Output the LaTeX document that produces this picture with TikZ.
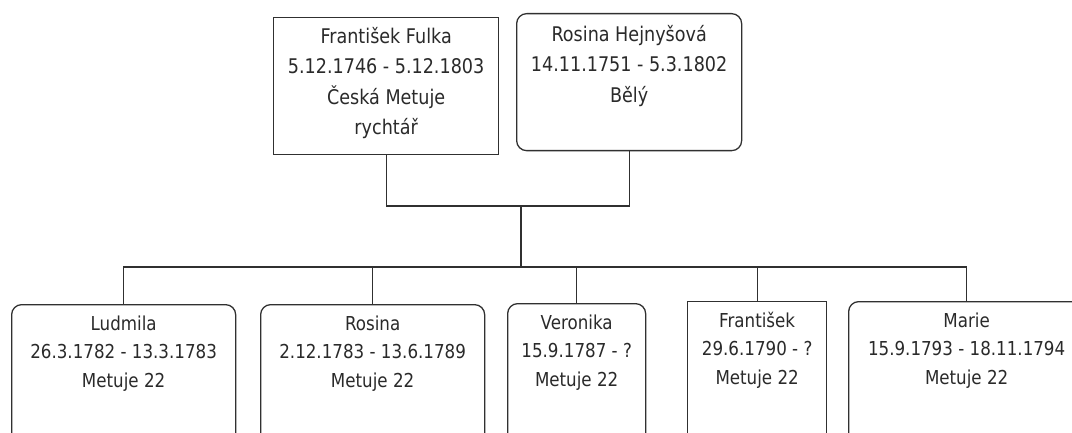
\documentclass[tikz,border=0pt]{standalone}
\usepackage{fontspec}
\setmainfont[FakeStretch=0.87]{DejaVu Sans}
\definecolor{linec}{HTML}{303030}
\definecolor{txtc}{HTML}{2A2A2A}
\tikzset{
  person/.style={draw=linec, line width=1.3pt, anchor=north west, inner sep=0pt, minimum height=141pt},
  roundp/.style={person, rounded corners=10pt},
  squarep/.style={person},
  toptext/.style={text=txtc, align=center, anchor=north, inner sep=0pt, font=\fontsize{20.2}{30.5}\selectfont},
  bottext/.style={text=txtc, align=center, anchor=north, inner sep=0pt, font=\fontsize{19.2}{28.6}\selectfont},
  conn/.style={draw=linec, line width=1.3pt},
}
\begin{document}
\begin{tikzpicture}[x=1pt,y=-1pt]
\useasboundingbox (0,0) rectangle (1072,433);
\clip (0,0) rectangle (1072,433);
\fill[white] (0,0) rectangle (1072,433);
% parents
\node (fulka) [squarep, minimum width=225pt, minimum height=137pt] at (273,17) {};
\node (fulka-t) [toptext] at ([yshift=-4.65pt]fulka.north) {\strut František Fulka\\5.12.1746 - 5.12.1803\\Česká Metuje\\rychtář};
\node (hejny) [roundp, minimum width=225pt, minimum height=137pt] at (516,13) {};
\node (hejny-t) [toptext] at ([yshift=-6.5pt]hejny.north) {\strut Rosina Hejnyšová\\14.11.1751 - 5.3.1802\\Bělý};
% children
\node (ludmila) [roundp, minimum width=224pt] at (11,304) {};
\node (ludmila-t) [bottext] at ([yshift=-6pt]ludmila.north) {\strut Ludmila\\26.3.1782 - 13.3.1783\\Metuje 22};
\node (rosina) [roundp, minimum width=224pt] at (260,304) {};
\node (rosina-t) [bottext] at ([yshift=-6pt]rosina.north) {\strut Rosina\\2.12.1783 - 13.6.1789\\Metuje 22};
\node (veronika) [roundp, minimum width=138pt] at (507,303) {};
\node (veronika-t) [bottext] at ([yshift=-6pt]veronika.north) {\strut Veronika\\15.9.1787 - ?\\Metuje 22};
\node (frantisek) [squarep, minimum width=139pt] at (687,301) {};
\node (frantisek-t) [bottext] at ([yshift=-6pt]frantisek.north) {\strut František\\29.6.1790 - ?\\Metuje 22};
\node (marie) [roundp, minimum width=236pt] at (848,301) {};
\node (marie-t) [bottext] at ([yshift=-6pt]marie.north) {\strut Marie\\15.9.1793 - 18.11.1794\\Metuje 22};
% connectors
\coordinate (couple) at (521,206);
\coordinate (bus) at (521,267);
\draw[conn] (fulka.south) |- (couple) -| (hejny.south);
\draw[conn] (couple) -- (bus);
\foreach \c in {ludmila,rosina,veronika,frantisek,marie}
  \draw[conn] (bus) -| (\c.north);
\end{tikzpicture}
\end{document}
